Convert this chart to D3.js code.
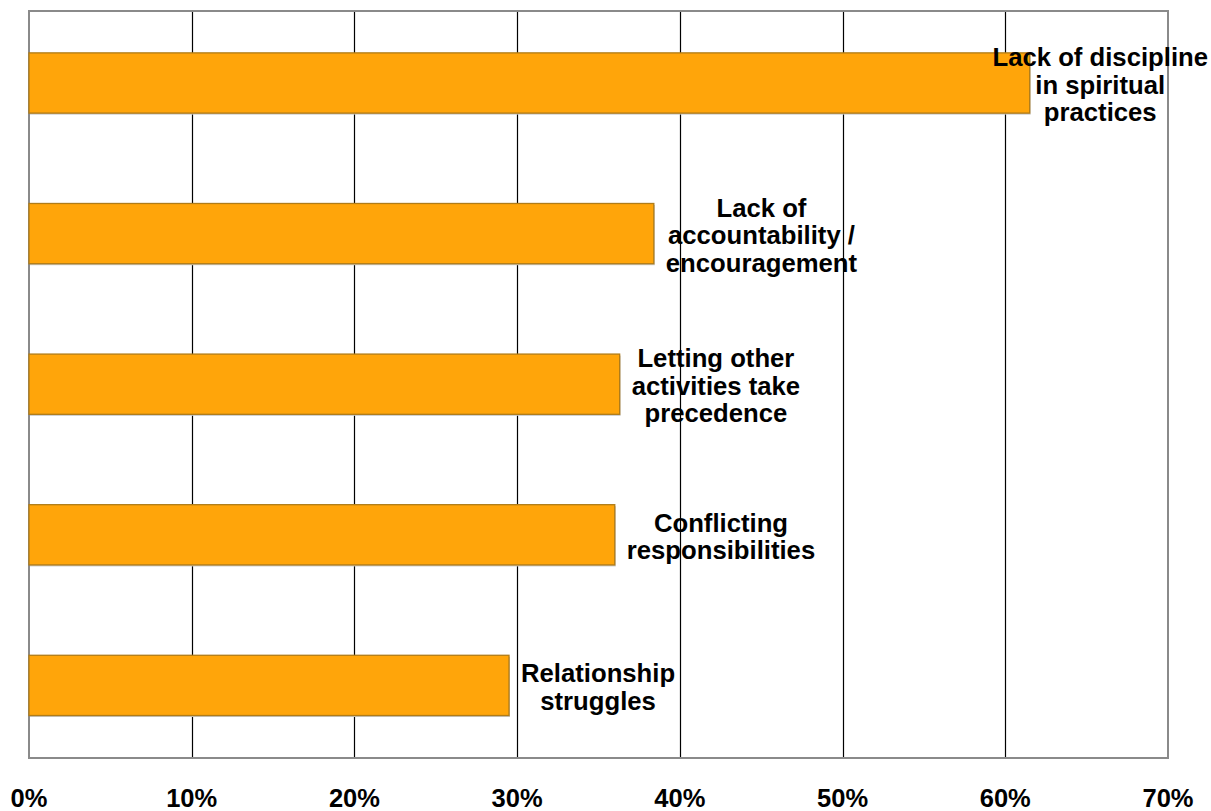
<!DOCTYPE html>
<html>
<head>
<meta charset="utf-8">
<script src="https://cdn.jsdelivr.net/npm/d3@7"></script>
<style>
  html, body { margin: 0; padding: 0; background: #fff; overflow: hidden; }
  svg { display: block; }
  text { font-family: "Liberation Sans", Arial, sans-serif; font-weight: bold; fill: #000; }
</style>
</head>
<body>
<svg id="chart" width="1211" height="811"></svg>
<script>
const categories = [
  ["Lack of discipline", "in spiritual", "practices"],
  ["Lack of", "accountability /", "encouragement"],
  ["Letting other", "activities take", "precedence"],
  ["Conflicting", "responsibilities"],
  ["Relationship", "struggles"]
];
const values = [0.615, 0.384, 0.363, 0.360, 0.295];
const tickValues = [0, 0.1, 0.2, 0.3, 0.4, 0.5, 0.6, 0.7];
const tickLabels = ["0%", "10%", "20%", "30%", "40%", "50%", "60%", "70%"];

const W = 1211, H = 811;
const plot = { left: 29, right: 1168, top: 11, bottom: 758 };
const svg = d3.select("#chart");

const x = d3.scaleLinear().domain([0, 0.7]).range([plot.left, plot.right]);
const y = d3.scaleBand().domain(d3.range(categories.length))
  .range([7.7, 760.7]).paddingInner(0.6).paddingOuter(0.3);

// gridlines
svg.append("g").selectAll("line")
  .data(tickValues.slice(1, -1))
  .join("line")
  .attr("x1", d => Math.round(x(d)) + 0.5).attr("x2", d => Math.round(x(d)) + 0.5)
  .attr("y1", plot.top).attr("y2", plot.bottom)
  .attr("stroke", "#000").attr("stroke-width", 1.2);

// frame
svg.append("rect")
  .attr("x", plot.left).attr("y", plot.top)
  .attr("width", plot.right - plot.left).attr("height", plot.bottom - plot.top)
  .attr("fill", "none").attr("stroke", "#8a8a8a").attr("stroke-width", 2);

// bar shadows
svg.append("g").selectAll("rect")
  .data(values)
  .join("rect")
  .attr("x", x(0) + 1)
  .attr("y", (d, i) => y(i) + 1.5)
  .attr("width", d => x(d) - x(0))
  .attr("height", y.bandwidth())
  .attr("fill", "#c8c8c8");

// bars
svg.append("g").selectAll("rect")
  .data(values)
  .join("rect")
  .attr("x", x(0))
  .attr("y", (d, i) => y(i))
  .attr("width", d => x(d) - x(0))
  .attr("height", y.bandwidth())
  .attr("fill", "#FFA50A")
  .attr("stroke", "#b07c18")
  .attr("stroke-width", 1.3);

// x tick labels
svg.append("g").selectAll("text")
  .data(tickValues)
  .join("text")
  .attr("x", d => x(d))
  .attr("y", 807)
  .attr("text-anchor", "middle")
  .style("font-size", "25.5px")
  .text((d, i) => tickLabels[i]);

// labels
const lineH = 27.5, fs = 25.7;
const lg = svg.append("g");
categories.forEach((lines, i) => {
  const t = lg.append("text").attr("text-anchor", "middle").style("font-size", fs + "px");
  const n = lines.length;
  const cy = y(i) + y.bandwidth() / 2;
  const spans = lines.map((ln, k) =>
    t.append("tspan").text(ln).attr("y", cy + 10.5 + (k - (n - 1) / 2) * lineH));
  const maxW = d3.max(spans, s => s.node().getComputedTextLength());
  let cx = x(values[i]) + 12 + maxW / 2;
  cx = Math.min(cx, W - 3 - maxW / 2);
  spans.forEach(s => s.attr("x", cx));
});
</script>
</body>
</html>
